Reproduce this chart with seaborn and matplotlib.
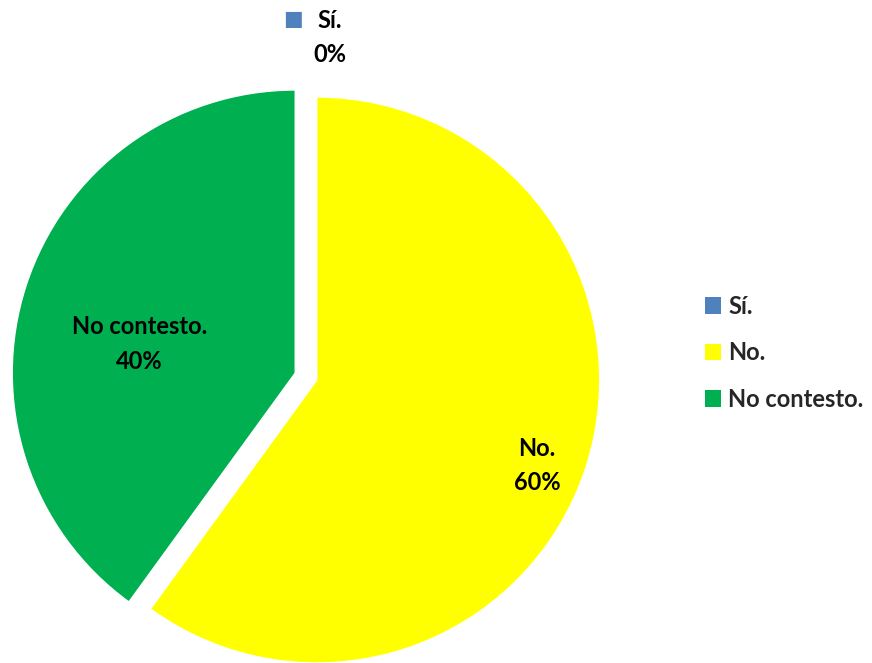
import matplotlib

matplotlib.use("Agg")

import matplotlib.pyplot as plt  # noqa: E402
import numpy as np  # noqa: E402
import seaborn as sns  # noqa: E402
from matplotlib.patches import Patch  # noqa: E402

categories = ["Sí.", "No.", "No contesto."]
percentages = [0, 60, 40]
colors = ["#4F81BD", "#FFFF00", "#00B050"]
explode = [0.0, 0.04, 0.04]
label_dist = [1.2, 0.875, 0.60]
label_turn = [-4, -3, 7]  # degrees, nudges each label off the wedge middle

sns.set_theme(style="white")
plt.rcParams["font.family"] = ["Lato", "DejaVu Sans"]

W, H, R = 872, 663, 283
cx, cy = 306, 663 - 376.5

fig = plt.figure(figsize=(W / 100, H / 100), dpi=100)
ax = fig.add_axes([0, 0, 1, 1])

wedges, _ = ax.pie(percentages, colors=colors, explode=explode, startangle=90,
                   counterclock=False, radius=1.0, center=(0, 0))
ax.set_xlim(-cx / R, (W - cx) / R)
ax.set_ylim(-cy / R, (H - cy) / R)
ax.set_aspect("auto")
ax.axis("off")

for w, cat, pct, d, t in zip(wedges, categories, percentages, label_dist, label_turn):
    mid = np.deg2rad((w.theta1 + w.theta2) / 2 + t)
    x, y = d * np.cos(mid), d * np.sin(mid)
    if pct == 0:
        ax.text(x - 0.13, y + 0.065, "■", color=colors[0], fontsize=15,
                ha="center", va="center")
    ax.text(x, y, f"{cat}\n{pct}%", ha="center", va="center", fontsize=17,
            fontweight="bold", color="black", linespacing=1.6)

handles = [Patch(facecolor=c, edgecolor="none", label=cat) for c, cat in zip(colors, categories)]
fig.legend(handles=handles, loc="center left", bbox_to_anchor=(0.808, 0.468), frameon=False,
           borderpad=0, borderaxespad=0,
           handlelength=0.7, handleheight=0.7, handletextpad=0.3, labelspacing=1.0,
           prop={"size": 17, "weight": "bold"})

fig.savefig("out.png", dpi=100)
